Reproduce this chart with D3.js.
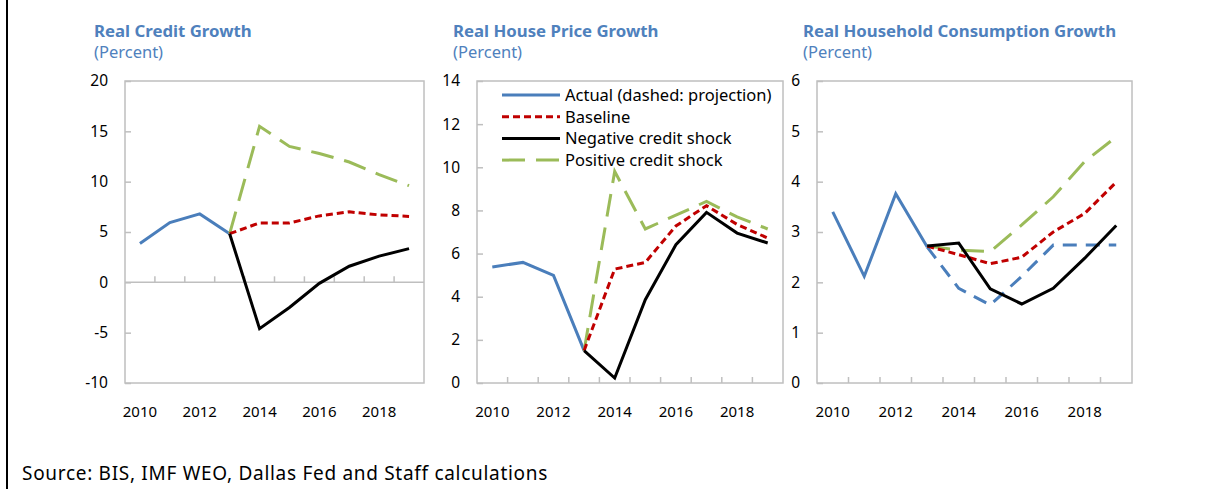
<!DOCTYPE html>
<html>
<head>
<meta charset="utf-8">
<script src="https://cdn.jsdelivr.net/npm/d3@7"></script>
<style>
  body { margin: 0; background: #fff; }
  svg { display: block; font-family: "Noto Sans", "Open Sans", sans-serif; }
  .axis { font-family: "Noto Sans", "Open Sans", sans-serif; }
  .axis path { display: none; }
  .axis line { stroke: #bfbfbf; stroke-width: 1.5px; }
  .axis text { fill: #000; font-size: 15.5px; }
  .axis.xlab text { font-size: 15px; }
  .frame { fill: none; stroke: #bfbfbf; stroke-width: 1.5px; }
  .title { fill: #4f81bd; font-size: 16.8px; font-weight: bold; }
  .unit { fill: #4f81bd; font-size: 16.5px; }
</style>
</head>
<body>
<div id="chart"></div>
<script>
var years = ['2010', '2011', '2012', '2013', '2014', '2015', '2016', '2017', '2018', '2019'];
var actualYears = ['2010', '2011', '2012', '2013'];
var projYears = ['2013', '2014', '2015', '2016', '2017', '2018', '2019'];
var yearLabels = ['2010', '2012', '2014', '2016', '2018'];

var titles = ['Real Credit Growth', 'Real House Price Growth', 'Real Household Consumption Growth'];
var legendLabels = ['Actual (dashed: projection)', 'Baseline', 'Negative credit shock', 'Positive credit shock'];

// real credit growth
var creditActual = [3.85, 5.93, 6.8, 4.83];
var creditBase = [4.83, 5.9, 5.9, 6.6, 7.0, 6.7, 6.55];
var creditNeg = [4.83, -4.6, -2.5, -0.1, 1.6, 2.6, 3.35];
var creditPos = [4.83, 15.5, 13.5, 12.8, 11.95, 10.7, 9.6];

// real house price growth
var houseActual = [5.38, 5.59, 4.99, 1.5];
var houseBase = [1.5, 5.28, 5.59, 7.28, 8.22, 7.35, 6.72];
var houseNeg = [1.5, 0.23, 3.86, 6.41, 7.91, 6.95, 6.49];
var housePos = [1.5, 9.81, 7.14, 7.78, 8.42, 7.7, 7.14];

// real household consumption growth
var consActual = [3.40, 2.12, 3.76, 2.7];
var consProj = [2.7, 1.88, 1.55, 2.12, 2.74, 2.74, 2.74];
var consBase = [2.72, 2.55, 2.37, 2.5, 3.0, 3.37, 3.99];
var consNeg = [2.72, 2.78, 1.87, 1.57, 1.88, 2.48, 3.13];
var consPos = [2.72, 2.64, 2.61, 3.14, 3.7, 4.4, 4.89];

var creditTicks = [-10, -5, 0, 5, 10, 15, 20];
var houseTicks = [0, 2, 4, 6, 8, 10, 12, 14];
var consTicks = [0, 1, 2, 3, 4, 5, 6];

var width = 1216;
var height = 489;

var colors = {actual: '#4a7ebb', base: '#c00000', neg: '#000000', pos: '#9bbb59'};
var dashes = {actual: null, proj: '14,9', base: '7,4', neg: null, pos: '23,11'};

var panels = [
    {left: 125, right: 424, ticks: creditTicks, titleX: 94,
     series: [
         {x: actualYears, y: creditActual, color: colors.actual, dash: dashes.actual},
         {x: projYears, y: creditPos, color: colors.pos, dash: dashes.pos},
         {x: projYears, y: creditBase, color: colors.base, dash: dashes.base},
         {x: projYears, y: creditNeg, color: colors.neg, dash: dashes.neg}
     ]},
    {left: 477, right: 783, ticks: houseTicks, titleX: 453,
     series: [
         {x: actualYears, y: houseActual, color: colors.actual, dash: dashes.actual},
         {x: projYears, y: housePos, color: colors.pos, dash: dashes.pos},
         {x: projYears, y: houseBase, color: colors.base, dash: dashes.base},
         {x: projYears, y: houseNeg, color: colors.neg, dash: dashes.neg}
     ]},
    {left: 817, right: 1132, ticks: consTicks, titleX: 803,
     series: [
         {x: actualYears, y: consActual, color: colors.actual, dash: dashes.actual},
         {x: projYears, y: consProj, color: colors.actual, dash: dashes.proj},
         {x: projYears, y: consPos, color: colors.pos, dash: dashes.pos},
         {x: projYears, y: consBase, color: colors.base, dash: dashes.base},
         {x: projYears, y: consNeg, color: colors.neg, dash: dashes.neg}
     ]}
];

var plotTop = 81;
var plotBottom = 383;

var svg = d3.select("#chart").append("svg").attr("width", width).attr("height", height);

// left border line
svg.append("line")
    .attr("x1", 7).attr("x2", 7).attr("y1", 0).attr("y2", height)
    .attr("stroke", "#000").attr("stroke-width", 2);

panels.forEach(function (p, k) {
    var x = d3.scaleBand().domain(years).range([p.left, p.right]).padding(0);
    var y = d3.scaleLinear().domain(d3.extent(p.ticks)).range([plotBottom, plotTop]);
    var cx = function (d) { return x(d) + x.bandwidth() / 2; };

    var g = svg.append("g");

    g.append("text").attr("class", "title")
        .attr("x", p.titleX).attr("y", 37).text(titles[k]);
    g.append("text").attr("class", "unit")
        .attr("x", p.titleX).attr("y", 58).text("(Percent)");

    g.append("rect").attr("class", "frame")
        .attr("x", p.left).attr("y", plotTop)
        .attr("width", p.right - p.left).attr("height", plotBottom - plotTop);

    // y axis: ticks inside, labels outside
    var yAxis = d3.axisRight(y).tickValues(p.ticks).tickSize(6).tickFormat("");
    g.append("g").attr("class", "axis")
        .attr("transform", "translate(" + p.left + ",0)")
        .call(yAxis);
    g.append("g").attr("class", "axis")
        .attr("transform", "translate(" + (p.left - 17) + ",0)")
        .call(d3.axisLeft(y).tickValues(p.ticks).tickSize(0).tickPadding(0)
            .tickFormat(function (d) { return String(d); }))
        .selectAll("line").remove();

    // x axis sits on zero line, ticks between years
    var y0 = y(Math.max(0, y.domain()[0]));
    if (y.domain()[0] < 0) {
        g.append("line").attr("class", "frame")
            .attr("x1", p.left).attr("x2", p.right)
            .attr("y1", y0).attr("y2", y0);
    }
    g.append("g").attr("class", "axis")
        .selectAll("line")
        .data(years.slice(1))
        .enter().append("line")
        .attr("x1", function (d) { return x(d); })
        .attr("x2", function (d) { return x(d); })
        .attr("y1", y0).attr("y2", y0 - 6);

    g.append("g").attr("class", "axis xlab")
        .attr("transform", "translate(0," + (plotBottom + 15) + ")")
        .call(d3.axisBottom(x).tickValues(yearLabels).tickSize(0).tickPadding(8))
        .selectAll("line").remove();

    var line = d3.line()
        .x(function (d) { return cx(d[0]); })
        .y(function (d) { return y(d[1]); });

    p.series.forEach(function (s) {
        g.append("path")
            .attr("d", line(d3.zip(s.x, s.y)))
            .attr("fill", "none")
            .attr("stroke", s.color)
            .attr("stroke-width", 3)
            .attr("stroke-dasharray", s.dash);
    });
});

// legend in middle panel
var legendColors = [colors.actual, colors.base, colors.neg, colors.pos];
var legendDashes = [dashes.actual, dashes.base, dashes.neg, dashes.pos];
var legend = svg.append("g").attr("transform", "translate(502,95)");
legendLabels.forEach(function (label, i) {
    legend.append("line")
        .attr("x1", 0).attr("x2", 58)
        .attr("y1", i * 21.7).attr("y2", i * 21.7)
        .attr("stroke", legendColors[i]).attr("stroke-width", 3)
        .attr("stroke-dasharray", legendDashes[i]);
    legend.append("text")
        .attr("x", 63).attr("y", i * 21.7 + 6)
        .attr("font-size", "16.5px")
        .text(label);
});

svg.append("text")
    .attr("x", 22).attr("y", 480)
    .attr("font-size", "19px")
    .attr("letter-spacing", "0.7px")
    .text("Source: BIS, IMF WEO, Dallas Fed and Staff calculations");
</script>
</body>
</html>
